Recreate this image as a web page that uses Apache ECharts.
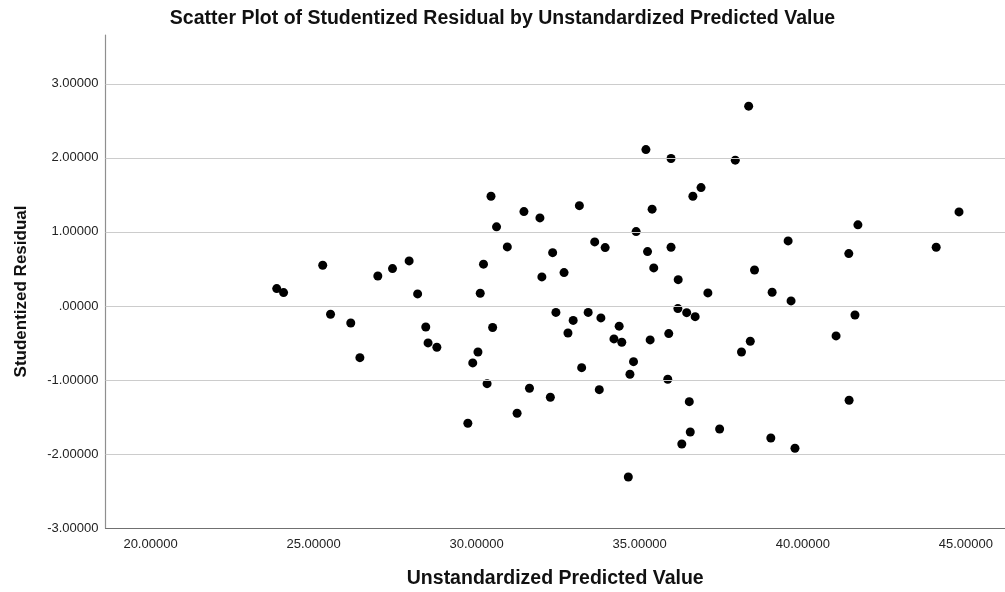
<!DOCTYPE html>
<html>
<head>
<meta charset="utf-8">
<title>Studentized Residual by Unstandardized Predicted Value</title>
<script src="https://cdn.jsdelivr.net/npm/echarts@6/dist/echarts.min.js"></script>
<style>
  html, body { margin: 0; padding: 0; background: #ffffff; }
  #chart { width: 1005px; height: 592px; }
</style>
</head>
<body>
<div id="chart"></div>
<script>
// Unstandardized predicted value for each case
const predicted = [
  23.87, 24.08, 25.28, 25.52, 26.14, 26.42, 26.97, 27.42, 27.93, 28.19,
  28.44, 28.51, 28.78, 29.73, 29.88, 30.04, 30.11, 30.21, 30.32, 30.44,
  30.49, 30.61, 30.94, 31.24, 31.45, 31.62, 31.94, 32.00, 32.26, 32.33,
  32.43, 32.68, 32.80, 32.96, 33.15, 33.22, 33.42, 33.62, 33.76, 33.81,
  33.94, 34.21, 34.37, 34.45, 34.65, 34.70, 34.81, 34.89, 35.19, 35.24,
  35.32, 35.38, 35.43, 35.86, 35.89, 35.96, 35.96, 36.17, 36.18, 36.29,
  36.44, 36.52, 36.55, 36.63, 36.70, 36.88, 37.09, 37.45, 37.93, 38.12,
  38.34, 38.39, 38.52, 39.02, 39.06, 39.55, 39.64, 39.76, 41.02, 41.41,
  41.42, 41.60, 41.69, 44.09, 44.79
];

// Studentized residual for each case (same order as predicted)
const residual = [
  0.234, 0.180, 0.550, -0.112, -0.230, -0.699, 0.405, 0.504, 0.608, 0.162,
  -0.284, -0.500, -0.558, -1.585, -0.770, -0.622, 0.172, 0.564, -1.050, 1.482,
  -0.291, 1.068, 0.797, -1.450, 1.274, -1.112, 1.189, 0.392, -1.234, 0.720,
  -0.088, 0.450, -0.365, -0.196, 1.355, -0.834, -0.088, 0.865, -1.131, -0.162,
  0.788, -0.446, -0.273, -0.491, -2.311, -0.923, -0.753, 1.004, 2.112, 0.734,
  -0.459, 1.307, 0.514, -0.991, -0.374, 1.991, 0.793, -0.036, 0.355, -1.865,
  -0.091, -1.293, -1.703, 1.482, -0.145, 1.599, 0.176, -1.662, 1.969, -0.622,
  2.699, -0.477, 0.486, -1.784, 0.185, 0.878, 0.068, -1.923, -0.405, 0.707,
  -1.274, -0.122, 1.095, 0.793, 1.270
];

// Tick values shown on each axis
const xTicks = [20, 25, 30, 35, 40, 45];
const yTicks = [-3, -2, -1, 0, 1, 2, 3];

// Axis extents
const xRange = [18.62, 46.2];
const yRange = [-3, 3.66];

// SPSS-style number format: five decimals, no leading zero
function fmt(v) {
  return Number(v).toFixed(5).replace(/^(-?)0\./, '$1.');
}

const points = predicted.map((x, i) => [x, residual[i]]);

const FONT = '"Liberation Sans", Arial, sans-serif';

const chart = echarts.init(document.getElementById('chart'), null, { renderer: 'canvas' });

chart.setOption({
  backgroundColor: '#ffffff',
  animation: false,
  title: {
    text: 'Scatter Plot of Studentized Residual by Unstandardized Predicted Value',
    left: 'center',
    top: 4,
    textStyle: { fontFamily: FONT, fontSize: 19.5, fontWeight: 'bold', color: '#111111' }
  },
  grid: {
    left: 105.5, right: 0, top: 35, bottom: 64,
    containLabel: false,
    outerBoundsMode: 'none'
  },
  xAxis: {
    type: 'value',
    min: xRange[0],
    max: xRange[1],
    name: 'Unstandardized Predicted Value',
    nameLocation: 'middle',
    nameGap: 41,
    nameTextStyle: { fontFamily: FONT, fontSize: 19.5, fontWeight: 'bold', color: '#111111' },
    axisLine: { show: true, onZero: false, lineStyle: { color: '#707070', width: 1.2 } },
    axisTick: { show: false, customValues: xTicks },
    splitLine: { show: false },
    axisLabel: {
      customValues: xTicks,
      formatter: fmt,
      margin: 10,
      fontFamily: FONT,
      fontSize: 13,
      color: '#222222'
    }
  },
  yAxis: {
    type: 'value',
    min: yRange[0],
    max: yRange[1],
    name: 'Studentized Residual',
    nameLocation: 'middle',
    nameGap: 76,
    nameTextStyle: {
      fontFamily: FONT, fontSize: 17, fontWeight: 'bold', color: '#111111',
      padding: [0, 20, 0, 0]
    },
    axisLine: { show: true, onZero: false, lineStyle: { color: '#8f8f8f', width: 1.2 } },
    axisTick: { show: false, customValues: yTicks },
    splitLine: { show: false },
    axisLabel: {
      customValues: yTicks,
      formatter: fmt,
      margin: 7,
      fontFamily: FONT,
      fontSize: 13,
      color: '#222222'
    }
  },
  series: [{
    type: 'scatter',
    data: points,
    symbol: 'circle',
    symbolSize: 9,
    itemStyle: { color: '#000000', opacity: 1, borderWidth: 0 },
    emphasis: { disabled: true },
    markLine: {
      silent: true,
      symbol: 'none',
      animation: false,
      label: { show: false },
      lineStyle: { color: '#cccccc', width: 1.2, type: 'solid' },
      data: yTicks.filter(v => v > yRange[0]).map(v => ({ yAxis: v }))
    },
    z: 3
  }]
});
</script>
</body>
</html>
